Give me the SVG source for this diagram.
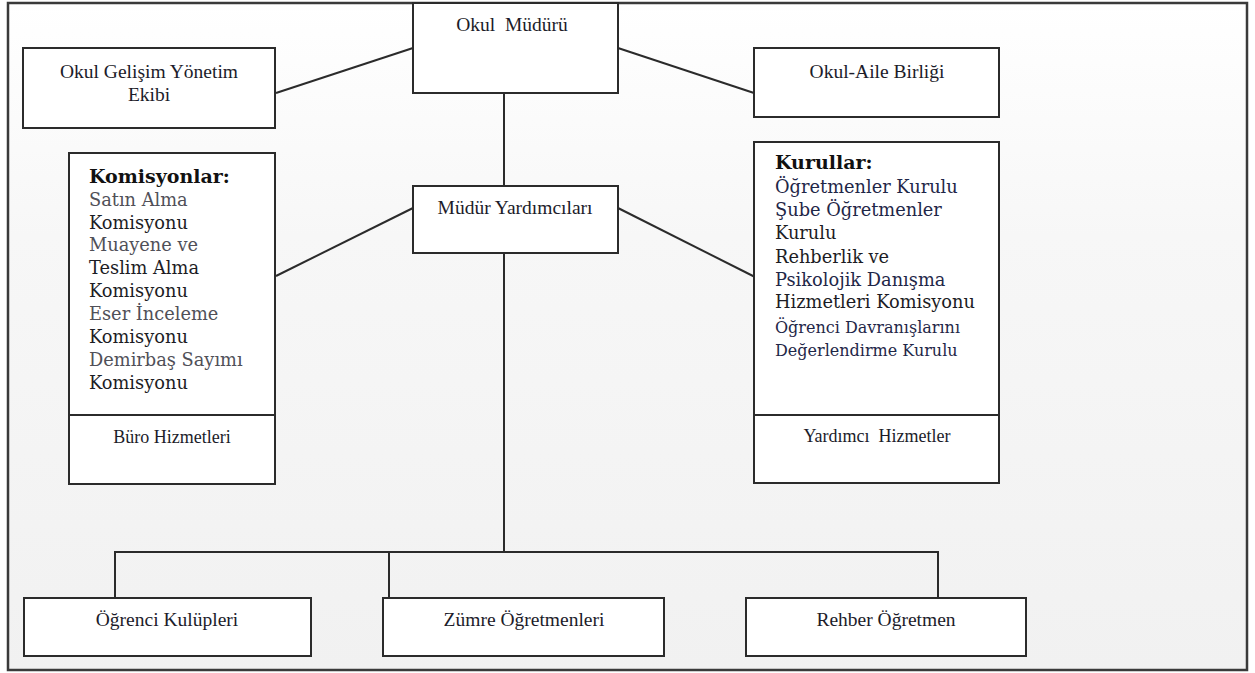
<svg xmlns="http://www.w3.org/2000/svg" width="1255" height="673" viewBox="0 0 1255 673">
<defs>
<linearGradient id="bg" x1="0" y1="0" x2="0" y2="1">
<stop offset="0" stop-color="#ffffff"/>
<stop offset="0.35" stop-color="#f7f7f7"/>
<stop offset="1" stop-color="#f1f1f1"/>
</linearGradient>
</defs>
<style>
.box{fill:#fff;stroke:#2b2b2b;stroke-width:2}
.ln{fill:none;stroke:#2b2b2b;stroke-width:2}
.lbl{font-family:"Liberation Serif","Times New Roman",serif;font-size:19.5px;fill:#1c1c2a;text-anchor:middle}
.lst{font-family:"DejaVu Serif","Liberation Serif",serif;font-size:17.8px;fill:#1c1c24}
.g{fill:#505058}
.n{fill:#1f2748}
.b{font-weight:bold;fill:#111;font-size:19px}
</style>
<rect x="8" y="3" width="1239" height="667" fill="url(#bg)" stroke="#3a3a3a" stroke-width="2.5"/>
<g id="connectors">
<line class="ln" x1="276" y1="93" x2="413" y2="48"/>
<line class="ln" x1="618" y1="48" x2="754" y2="93"/>
<line class="ln" x1="504" y1="93" x2="504" y2="186"/>
<line class="ln" x1="276" y1="276" x2="413" y2="208"/>
<line class="ln" x1="618" y1="208" x2="755" y2="277"/>
<line class="ln" x1="504" y1="253" x2="504" y2="552"/>
<polyline class="ln" points="115,598 115,552 938,552 938,598"/>
<line class="ln" x1="389" y1="552" x2="389" y2="598"/>
</g>
<g id="okul-muduru">
<rect class="box" x="413" y="3" width="205" height="90"/>
<text class="lbl" x="512" y="31" xml:space="preserve">Okul  Müdürü</text>
</g>
<g id="okul-gelisim">
<rect class="box" x="23" y="48" width="252" height="80"/>
<text class="lbl" x="149" y="78">Okul Gelişim Yönetim</text>
<text class="lbl" x="149" y="101">Ekibi</text>
</g>
<g id="okul-aile">
<rect class="box" x="754" y="48" width="245" height="69"/>
<text class="lbl" x="877" y="78">Okul-Aile Birliği</text>
</g>
<g id="mudur-yardimcilari">
<rect class="box" x="413" y="186" width="205" height="67"/>
<text class="lbl" x="515" y="214">Müdür Yardımcıları</text>
</g>
<g id="komisyonlar">
<rect class="box" x="69" y="153" width="206" height="331"/>
<line class="ln" x1="69" y1="415" x2="275" y2="415"/>
<text class="lst b" x="89" y="183">Komisyonlar:</text>
<text class="lst g" x="89" y="206">Satın Alma</text>
<text class="lst" x="89" y="229">Komisyonu</text>
<text class="lst g" x="89" y="251">Muayene ve</text>
<text class="lst" x="89" y="274">Teslim Alma</text>
<text class="lst" x="89" y="297">Komisyonu</text>
<text class="lst g" x="89" y="320">Eser İnceleme</text>
<text class="lst" x="89" y="343">Komisyonu</text>
<text class="lst g" x="89" y="366">Demirbaş Sayımı</text>
<text class="lst" x="89" y="389">Komisyonu</text>
<text class="lbl" x="172" y="443" style="font-size:18px">Büro Hizmetleri</text>
</g>
<g id="kurullar">
<rect class="box" x="754" y="142" width="245" height="341"/>
<line class="ln" x1="754" y1="415" x2="999" y2="415"/>
<text class="lst b" x="775" y="169">Kurullar:</text>
<text class="lst n" x="775" y="193">Öğretmenler Kurulu</text>
<text class="lst n" x="775" y="216">Şube Öğretmenler</text>
<text class="lst" x="775" y="239">Kurulu</text>
<text class="lst" x="775" y="263">Rehberlik ve</text>
<text class="lst n" x="775" y="286">Psikolojik Danışma</text>
<text class="lst" x="775" y="308">Hizmetleri Komisyonu</text>
<text class="lst n" x="775" y="333" style="font-size:16px">Öğrenci Davranışlarını</text>
<text class="lst n" x="775" y="356" style="font-size:16px">Değerlendirme Kurulu</text>
<text class="lbl" x="877" y="442" style="font-size:18px" xml:space="preserve">Yardımcı  Hizmetler</text>
</g>
<g id="ogrenci-kulupleri">
<rect class="box" x="24" y="598" width="287" height="58"/>
<text class="lbl" x="167" y="626">Öğrenci Kulüpleri</text>
</g>
<g id="zumre">
<rect class="box" x="383" y="598" width="281" height="58"/>
<text class="lbl" x="524" y="626">Zümre Öğretmenleri</text>
</g>
<g id="rehber">
<rect class="box" x="746" y="598" width="280" height="58"/>
<text class="lbl" x="886" y="626">Rehber Öğretmen</text>
</g>
</svg>
